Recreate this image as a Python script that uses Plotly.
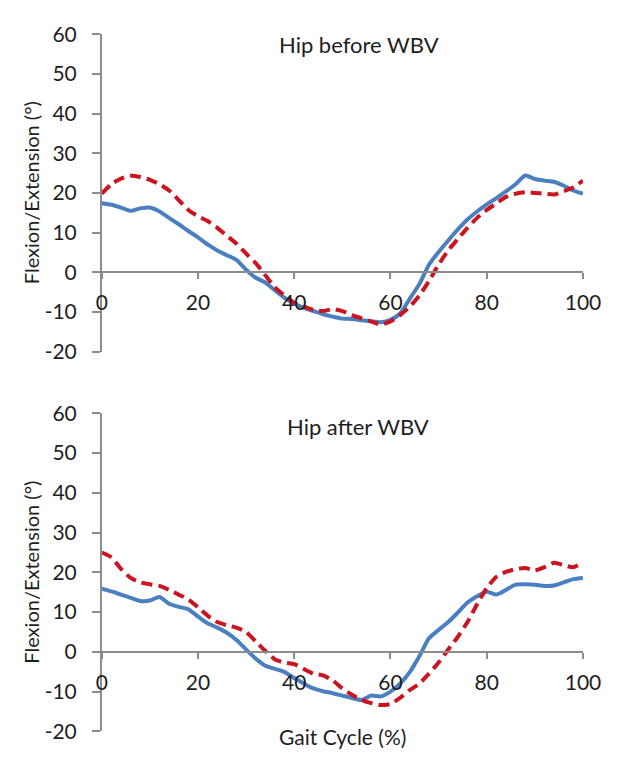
import plotly.graph_objects as go

# ---------------- data ----------------
gait_pct = [0, 2, 4, 6, 8, 10, 12, 14, 16, 18, 20, 22, 24, 26, 28, 30, 32, 34, 36, 38, 40,
            42, 44, 46, 48, 50, 52, 54, 56, 58, 60, 62, 64, 66, 68, 70, 72, 74, 76, 78, 80,
            82, 84, 86, 88, 90, 92, 94, 96, 98, 100]

before_blue = [17.4, 17.0, 16.3, 15.5, 16.1, 16.3, 15.3, 13.7, 12.1, 10.4, 8.8, 7.0, 5.5, 4.3, 3.1,
               0.6, -1.4, -2.6, -4.6, -6.5, -7.9, -9.0, -9.8, -10.6, -11.2, -11.7, -11.8, -12.1,
               -12.4, -12.6, -12.0, -10.4, -6.7, -3.0, 1.9, 5.1, 8.0, 10.8, 13.3, 15.3, 17.1,
               18.7, 20.4, 22.2, 24.4, 23.5, 23.1, 22.8, 21.8, 20.6, 19.8]

before_red = [19.8, 22.2, 23.6, 24.3, 24.0, 23.3, 22.2, 20.6, 18.2, 15.7, 14.1, 12.9, 11.2, 9.2, 7.2,
              4.7, 2.3, -0.8, -3.8, -5.9, -7.7, -8.7, -9.5, -9.8, -9.3, -9.8, -10.8, -11.6,
              -12.4, -13.2, -12.4, -10.8, -8.7, -5.9, -2.2, 1.9, 5.5, 8.4, 11.2, 13.7, 15.7,
              17.4, 19.0, 19.8, 20.2, 20.0, 19.8, 19.6, 20.4, 21.4, 23.1]

after_blue = [15.9, 15.2, 14.4, 13.6, 12.8, 12.9, 13.8, 12.1, 11.3, 10.7, 8.9, 7.2, 6.1, 4.8, 3.0,
              0.6, -1.7, -3.5, -4.3, -5.1, -6.6, -8.0, -9.2, -9.9, -10.4, -11.0, -11.6, -12.1,
              -11.0, -11.2, -10.0, -8.0, -5.1, -1.1, 3.4, 5.5, 7.5, 9.9, 12.4, 14.0, 15.1,
              14.4, 15.6, 16.9, 17.0, 16.9, 16.6, 16.7, 17.5, 18.3, 18.6]

after_red = [25.0, 23.8, 20.9, 18.6, 17.5, 17.0, 16.6, 15.6, 14.4, 13.2, 11.2, 9.1, 7.5, 6.7, 6.1,
             5.0, 2.6, 0.2, -1.9, -2.7, -3.1, -4.3, -5.5, -5.9, -7.2, -9.2, -10.8, -12.1,
             -12.9, -13.4, -13.1, -11.6, -9.6, -8.0, -5.5, -2.7, 0.6, 3.8, 7.5, 12.0, 16.0,
             18.9, 20.1, 20.8, 21.1, 20.5, 21.3, 22.4, 21.8, 21.3, 22.6]

panel_titles = ["Hip before WBV", "Hip after WBV"]
y_title = "Flexion/Extension (°)"
x_title = "Gait Cycle (%)"
y_ticks = [-20, -10, 0, 10, 20, 30, 40, 50, 60]
y_tick_text = ["-20", "-10", "0", "10", "20", "30", "40", "50", "60"]
x_ticks = [0, 20, 40, 60, 80, 100]

# ---------------- layout helpers ----------------
# the page body has an 8px default margin on every side; the figure is sized
# so the page fits the 633x760 window exactly (no overflow / scrollbars)
OFF = 8
W, H = 633 - 2 * OFF, 760 - 2 * OFF
BLUE = "#4B80C0"
RED = "#CC1420"
AXIS = "#8C8C8C"
FONT = "Lato, 'Open Sans', sans-serif"
TXT = "#1E1E1E"

def fy(py):
    return 1 - (py - OFF) / H

def fx(px):
    return (px - OFF) / W

x_dom = [fx(99.3), fx(600)]
top_px = (20.7, 349.0)
bot_px = (413.0, 742.0)

fig = go.Figure()

fig.add_trace(go.Scatter(x=gait_pct, y=before_blue, mode="lines", xaxis="x", yaxis="y",
                         line=dict(color=BLUE, width=4, shape="spline", smoothing=0.6),
                         showlegend=False))
fig.add_trace(go.Scatter(x=gait_pct, y=before_red, mode="lines", xaxis="x", yaxis="y",
                         line=dict(color=RED, width=4, dash="11px,6px", shape="spline", smoothing=0.6),
                         showlegend=False))
fig.add_trace(go.Scatter(x=gait_pct, y=after_blue, mode="lines", xaxis="x2", yaxis="y2",
                         line=dict(color=BLUE, width=4, shape="spline", smoothing=0.6),
                         showlegend=False))
fig.add_trace(go.Scatter(x=gait_pct, y=after_red, mode="lines", xaxis="x2", yaxis="y2",
                         line=dict(color=RED, width=4, dash="11px,6px", shape="spline", smoothing=0.6),
                         showlegend=False))

def yaxis_cfg(px):
    return dict(domain=[fy(px[1]), fy(px[0])], range=[-20, 60], tickvals=y_ticks,
                ticktext=y_tick_text,
                showline=True, linecolor=AXIS, linewidth=1.5, ticks="outside", ticklen=8,
                tickcolor=AXIS, tickwidth=1.5, showgrid=False, zeroline=False,
                tickfont=dict(family=FONT, size=21, color=TXT), ticklabelstandoff=11,
                fixedrange=True)

def xaxis_cfg(px):
    zero_px = px[0] + (px[1] - px[0]) * 60 / 80
    return dict(domain=x_dom, range=[0, 100], tickvals=x_ticks, anchor="free",
                position=fy(zero_px),
                showline=True, linecolor=AXIS, linewidth=1.5, ticks="outside", ticklen=6,
                tickcolor=AXIS, tickwidth=1.5, showgrid=False, zeroline=False,
                tickfont=dict(family=FONT, size=21, color=TXT), ticklabelstandoff=6,
                fixedrange=True)

fig.update_layout(
    width=W, height=H,
    margin=dict(l=0, r=0, t=0, b=0),
    paper_bgcolor="white", plot_bgcolor="rgba(0,0,0,0)",
    xaxis=xaxis_cfg(top_px),
    yaxis=yaxis_cfg(top_px),
    xaxis2=xaxis_cfg(bot_px),
    yaxis2=yaxis_cfg(bot_px),
)

ann = []
ann.append(dict(text=panel_titles[0], x=fx(367), y=fy(31.7), xref="paper", yref="paper",
                showarrow=False, font=dict(family=FONT, size=22, color=TXT),
                xanchor="center", yanchor="middle"))
ann.append(dict(text=panel_titles[1], x=fx(366), y=fy(427), xref="paper", yref="paper",
                showarrow=False, font=dict(family=FONT, size=22, color=TXT),
                xanchor="center", yanchor="middle"))
for px in (top_px, bot_px):
    ann.append(dict(text=y_title, x=fx(26), y=fy((px[0] + px[1]) / 2), xref="paper", yref="paper",
                    textangle=-90, showarrow=False, font=dict(family=FONT, size=20, color=TXT),
                    xanchor="center", yanchor="middle"))
ann.append(dict(text=x_title, x=fx(350), y=fy(747), xref="paper", yref="paper",
                showarrow=False, font=dict(family=FONT, size=21, color=TXT),
                xanchor="center", yanchor="middle"))
fig.update_layout(annotations=ann)

fig.write_html("out.html")
